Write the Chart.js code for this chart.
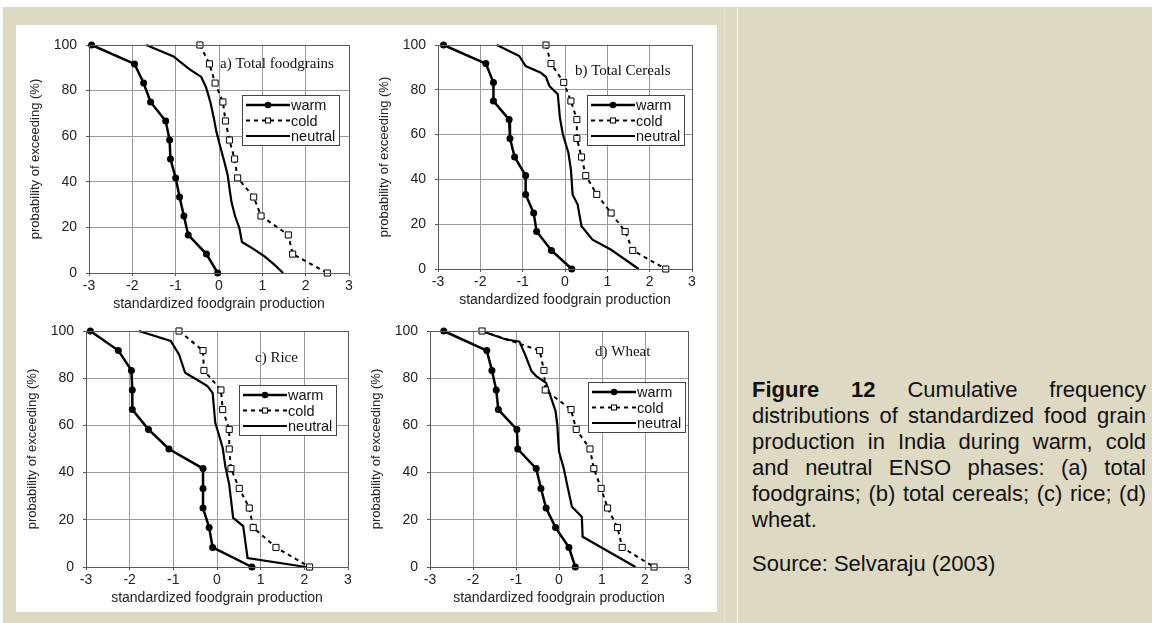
<!DOCTYPE html>
<html>
<head>
<meta charset="utf-8">
<script src="https://cdn.jsdelivr.net/npm/chart.js@4.4.1/dist/chart.umd.min.js"></script>
<style>
html, body { margin: 0; padding: 0; background: #fff; }
body { width: 1152px; height: 623px; position: relative; overflow: hidden; font-family: "Liberation Sans", Arial, sans-serif; }
#bg { position: absolute; left: 3px; top: 7px; right: 0; bottom: 0; background: #DDD9C3; }
#panel { position: absolute; left: 16px; top: 25px; width: 701px; height: 587px; background: #fff; }
.vline { position: absolute; top: 7px; bottom: 0; width: 1px; }
canvas { position: absolute; }
#caption { position: absolute; left: 752px; top: 377px; width: 394px; font-size: 22px; line-height: 26px; color: #111; }
#caption .ln { display: flex; justify-content: space-between; white-space: nowrap; }
#caption .ln.last { justify-content: flex-start; }
#caption .src { margin-top: 18px; }
</style>
</head>
<body>
<div id="bg"></div>
<div id="panel"></div>
<div class="vline" style="left:724px;background:#e4e1cf"></div>
<div class="vline" style="left:737px;background:#f6f5ee"></div>
<canvas id="ca"></canvas>
<canvas id="cb"></canvas>
<canvas id="cc"></canvas>
<canvas id="cd"></canvas>
<div id="caption"></div>
<script>
// axes
var xTicks = [-3, -2, -1, 0, 1, 2, 3];
var yTicks = [0, 20, 40, 60, 80, 100];
var seriesNames = ['warm', 'cold', 'neutral'];
var panelTitles = ['a) Total foodgrains', 'b) Total Cereals', 'c) Rice', 'd) Wheat'];

// probability of exceeding for the warm / cold years (13 years each)
var warmProb = [100, 91.7, 83.3, 75, 66.7, 58.3, 50, 41.7, 33.3, 25, 16.7, 8.3, 0];
var coldProb = [100, 91.7, 83.3, 75, 66.7, 58.3, 50, 41.7, 33.3, 25, 16.7, 8.3, 0];

// a) total foodgrains
var warmA = [-2.94, -1.95, -1.74, -1.58, -1.23, -1.14, -1.12, -1.0, -0.91, -0.81, -0.71, -0.29, -0.03];
var coldA = [-0.44, -0.22, -0.09, 0.09, 0.15, 0.24, 0.36, 0.43, 0.8, 0.97, 1.6, 1.7, 2.5];
var neutralAx = [-1.68, -1.05, -0.70, -0.41, -0.30, -0.20, -0.12, -0.06, 0.02, 0.12, 0.20, 0.25, 0.29, 0.37, 0.47, 0.53, 0.80, 1.05, 1.27, 1.48];
var neutralAy = [100, 95, 89.6, 86, 81.5, 75, 68, 62, 56, 49, 43, 36, 31, 25, 19.7, 13.6, 10.5, 7.3, 3.8, 0];

// b) total cereals
var warmB = [-2.87, -1.87, -1.69, -1.69, -1.32, -1.30, -1.19, -0.93, -0.93, -0.74, -0.67, -0.32, 0.16];
var coldB = [-0.45, -0.33, -0.03, 0.14, 0.28, 0.28, 0.39, 0.49, 0.75, 1.09, 1.42, 1.60, 2.38];
var neutralBx = [-1.61, -1.08, -0.93, -0.57, -0.45, -0.37, -0.17, -0.12, -0.05, 0.08, 0.14, 0.18, 0.30, 0.34, 0.39, 0.65, 1.09, 1.74];
var neutralBy = [100, 95.1, 90.6, 87.6, 85.7, 81.7, 78, 67.5, 60.1, 51.9, 44.4, 33.2, 28.8, 24.3, 19.1, 13.1, 8.6, 0];

// c) rice
var warmC = [-2.90, -2.26, -1.96, -1.94, -1.94, -1.57, -1.10, -0.32, -0.32, -0.32, -0.18, -0.10, 0.80];
var coldC = [-0.87, -0.32, -0.30, 0.09, 0.13, 0.28, 0.28, 0.32, 0.51, 0.74, 0.83, 1.35, 2.12];
var neutralCx = [-1.79, -1.06, -0.87, -0.73, -0.41, -0.22, -0.10, -0.04, 0.03, 0.13, 0.19, 0.28, 0.37, 0.60, 0.70, 2.04];
var neutralCy = [100, 95.8, 90.1, 82.3, 78.8, 76.7, 73.8, 61.1, 56.9, 50.5, 42.7, 34.9, 20.8, 17.3, 3.8, 0];

// d) wheat
var warmD = [-2.68, -1.68, -1.56, -1.46, -1.41, -0.98, -0.96, -0.53, -0.42, -0.30, -0.08, 0.23, 0.38];
var coldD = [-1.79, -0.45, -0.35, -0.32, 0.28, 0.40, 0.72, 0.81, 0.98, 1.13, 1.36, 1.47, 2.21];
var neutralDx = [-1.80, -1.25, -0.92, -0.79, -0.64, -0.53, -0.30, -0.08, -0.04, 0.00, 0.11, 0.19, 0.30, 0.53, 0.55, 1.78];
var neutralDy = [100, 96.5, 95.5, 90.1, 83, 80.9, 78, 66, 60.3, 48.9, 41.8, 34.8, 25.5, 21.3, 12.8, 0];

var captionLines = [
    'Figure 12 Cumulative frequency',
    'distributions of standardized food grain',
    'production in India during warm, cold',
    'and neutral ENSO phases: (a) total',
    'foodgrains; (b) total cereals; (c) rice; (d)',
    'wheat.'
];
var sourceLine = 'Source: Selvaraju (2003)';

function pts(xs, ys) {
    return xs.map(function (x, i) { return { x: x, y: ys[i] }; });
}

// plot rectangles (page px) and inner label placement
var panels = [
    { id: 'ca', rect: { l: 89, t: 45, r: 349, b: 273 }, title: panelTitles[0], titleAt: [131, 19], legendAt: [153, 50],
      warm: pts(warmA, warmProb), cold: pts(coldA, coldProb), neutral: pts(neutralAx, neutralAy) },
    { id: 'cb', rect: { l: 438, t: 45, r: 692, b: 269 }, title: panelTitles[1], titleAt: [137, 26], legendAt: [149, 50],
      warm: pts(warmB, warmProb), cold: pts(coldB, coldProb), neutral: pts(neutralBx, neutralBy) },
    { id: 'cc', rect: { l: 86, t: 331, r: 348, b: 567 }, title: panelTitles[2], titleAt: [169, 27], legendAt: [153, 54],
      warm: pts(warmC, warmProb), cold: pts(coldC, coldProb), neutral: pts(neutralCx, neutralCy) },
    { id: 'cd', rect: { l: 430, t: 331, r: 688, b: 567 }, title: panelTitles[3], titleAt: [165, 21], legendAt: [158, 51],
      warm: pts(warmD, warmProb), cold: pts(coldD, coldProb), neutral: pts(neutralDx, neutralDy) }
];

// top pad must exceed half a tick label + tick padding, or Chart.js pushes the plot down
var Y_W = 72, PAD_T = 20, X_H = 44, PAD_R = 14;
var sans = '"Liberation Sans", Arial, sans-serif';

// frame around the plot area
var framePlugin = {
    id: 'frame',
    afterDraw: function (chart) {
        var a = chart.chartArea, ctx = chart.ctx;
        ctx.save();
        ctx.strokeStyle = '#5a5a5a';
        ctx.lineWidth = 1;
        ctx.strokeRect(Math.round(a.left) + 0.5, Math.round(a.top) + 0.5, Math.round(a.right - a.left), Math.round(a.bottom - a.top));
        ctx.restore();
    }
};

// panel title and legend box drawn inside the plot area
var insidePlugin = {
    id: 'inside',
    afterDraw: function (chart, args, o) {
        var a = chart.chartArea, ctx = chart.ctx;
        ctx.save();
        ctx.font = '15px "Liberation Serif", "Times New Roman", serif';
        ctx.fillStyle = '#111';
        ctx.textBaseline = 'middle';
        ctx.fillText(o.title, a.left + o.titleAt[0], a.top + o.titleAt[1]);

        var bx = Math.round(a.left + o.legendAt[0]), by = Math.round(a.top + o.legendAt[1]);
        var bw = 97, bh = 50;
        ctx.fillStyle = '#fff';
        ctx.fillRect(bx, by, bw, bh);
        ctx.strokeStyle = '#444';
        ctx.lineWidth = 1;
        ctx.strokeRect(bx + 0.5, by + 0.5, bw, bh);
        chart.data.datasets.forEach(function (ds, i) {
            var cy = by + 10 + i * 15.5;
            ctx.beginPath();
            ctx.setLineDash(ds.borderDash || []);
            ctx.lineWidth = ds.borderWidth;
            ctx.strokeStyle = '#000';
            ctx.moveTo(bx + 4, cy);
            ctx.lineTo(bx + 48, cy);
            ctx.stroke();
            ctx.setLineDash([]);
            if (ds.pointRadius > 0) {
                if (ds.pointStyle === 'rect') {
                    ctx.fillStyle = '#fff';
                    ctx.fillRect(bx + 23, cy - 3, 6, 6);
                    ctx.lineWidth = 1;
                    ctx.strokeRect(bx + 23.5, cy - 2.5, 5, 5);
                } else {
                    ctx.fillStyle = '#000';
                    ctx.beginPath();
                    ctx.arc(bx + 26, cy, 3.3, 0, Math.PI * 2);
                    ctx.fill();
                }
            }
            ctx.font = '14.5px ' + sans;
            ctx.fillStyle = '#111';
            ctx.textBaseline = 'middle';
            ctx.fillText(ds.label, bx + 49, cy + 1);
        });
        ctx.restore();
    }
};

panels.forEach(function (p) {
    var cv = document.getElementById(p.id);
    var left = p.rect.l - Y_W, top = p.rect.t - PAD_T;
    var w = p.rect.r - p.rect.l + Y_W + PAD_R, h = p.rect.b - p.rect.t + PAD_T + X_H;
    cv.width = w; cv.height = h;
    cv.style.left = left + 'px'; cv.style.top = top + 'px';
    cv.style.width = w + 'px'; cv.style.height = h + 'px';

    new Chart(cv.getContext('2d'), {
        type: 'scatter',
        data: {
            datasets: [{
                label: seriesNames[0],
                data: p.warm,
                showLine: true,
                borderColor: '#000',
                borderWidth: 2.5,
                pointStyle: 'circle',
                pointRadius: 3.5,
                pointBackgroundColor: '#000',
                pointBorderColor: '#000',
                pointBorderWidth: 0,
                clip: false
            }, {
                label: seriesNames[1],
                data: p.cold,
                showLine: true,
                borderColor: '#000',
                borderWidth: 2,
                borderDash: [4, 4],
                pointStyle: 'rect',
                pointRadius: 4.3,
                pointBackgroundColor: '#fff',
                pointBorderColor: '#000',
                pointBorderWidth: 1,
                clip: false
            }, {
                label: seriesNames[2],
                data: p.neutral,
                showLine: true,
                borderColor: '#000',
                borderWidth: 2.2,
                pointRadius: 0,
                clip: false
            }]
        },
        options: {
            responsive: false,
            animation: false,
            events: [],
            layout: { padding: { left: 0, top: PAD_T, right: PAD_R, bottom: 0 } },
            plugins: {
                legend: { display: false },
                tooltip: { enabled: false },
                inside: { title: p.title, titleAt: p.titleAt, legendAt: p.legendAt }
            },
            scales: {
                x: {
                    type: 'linear',
                    min: xTicks[0],
                    max: xTicks[xTicks.length - 1],
                    ticks: { stepSize: 1, padding: 2, color: '#222', font: { family: sans, size: 14 } },
                    grid: { color: '#9a9a9a', lineWidth: 1, drawTicks: true, tickLength: 3, tickColor: '#555' },
                    border: { display: false },
                    title: { display: true, text: 'standardized foodgrain production', color: '#222',
                             font: { family: sans, size: 14 }, padding: { top: 0, bottom: 4 } },
                    afterFit: function (s) { s.height = X_H; }
                },
                y: {
                    type: 'linear',
                    min: yTicks[0],
                    max: yTicks[yTicks.length - 1],
                    ticks: { stepSize: 20, padding: 9, color: '#222', font: { family: sans, size: 14 } },
                    grid: { color: '#9a9a9a', lineWidth: 1, drawTicks: true, tickLength: 3, tickColor: '#555' },
                    border: { display: false },
                    title: { display: true, text: 'probability of exceeding (%)', color: '#222',
                             font: { family: sans, size: 13 }, padding: { top: 11, bottom: 0 } },
                    afterFit: function (s) { s.width = Y_W; }
                }
            }
        },
        plugins: [framePlugin, insidePlugin]
    });
});

// caption on the right
var cap = document.getElementById('caption');
captionLines.forEach(function (line, i) {
    var div = document.createElement('div');
    div.className = 'ln' + (i === captionLines.length - 1 ? ' last' : '');
    line.split(' ').forEach(function (word, j) {
        var el = document.createElement(i === 0 && j < 2 ? 'b' : 'span');
        el.textContent = word;
        div.appendChild(el);
        if (i === captionLines.length - 1 && j < line.split(' ').length - 1) div.appendChild(document.createTextNode(' '));
    });
    cap.appendChild(div);
});
var src = document.createElement('div');
src.className = 'src';
src.textContent = sourceLine;
cap.appendChild(src);
</script>
</body>
</html>
